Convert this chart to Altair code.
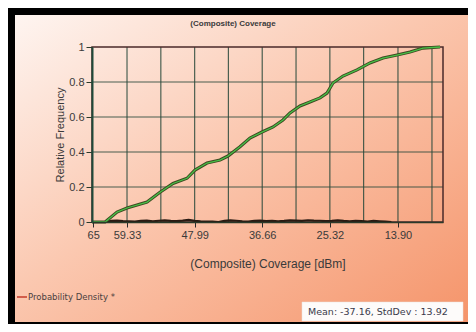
import altair as alt
import pandas as pd

# ---- data ----
cdf_x = [65.2, 63.0, 61.0, 59.33, 55.98, 53.80, 51.62, 49.27, 47.93, 45.92, 43.74, 42.40,
         40.39, 38.71, 36.70, 34.85, 33.18, 32.00, 30.33, 28.65, 26.97, 25.80, 24.80,
         23.12, 20.77, 18.59, 16.41, 14.06, 11.89, 9.71, 6.85]
cdf_y = [0.0, 0.0, 0.057, 0.08, 0.114, 0.17, 0.22, 0.25, 0.297, 0.337, 0.354, 0.377,
         0.43, 0.48, 0.514, 0.543, 0.583, 0.623, 0.663, 0.686, 0.709, 0.737, 0.794,
         0.834, 0.869, 0.909, 0.937, 0.954, 0.971, 0.994, 1.0]

dens_x = [63, 62, 61, 60, 59, 58, 57, 56, 55, 54, 53, 52, 51, 50, 49, 48, 47, 46, 45, 44,
          43, 42, 41, 40, 39, 38, 37, 36, 35, 34, 33, 32, 31, 30, 29, 28, 27, 26, 25, 24,
          23, 22, 21, 20, 19, 18, 17, 16, 15]
dens_y = [0.0, 0.006, 0.008, 0.005, 0.004, 0.002, 0.006, 0.008, 0.004, 0.007, 0.009, 0.006,
          0.005, 0.008, 0.012, 0.006, 0.004, 0.003, 0.002, 0.0, 0.006, 0.009, 0.007, 0.004,
          0.003, 0.006, 0.008, 0.005, 0.007, 0.004, 0.006, 0.009, 0.008, 0.006, 0.010, 0.008,
          0.007, 0.005, 0.006, 0.009, 0.006, 0.004, 0.007, 0.005, 0.003, 0.006, 0.004, 0.002, 0.0]

x_domain = [65.2, 6.35]
x_label_values = [65, 59.33, 47.99, 36.66, 25.32, 13.90]
grid_x = [59.33, 53.66, 47.99, 42.33, 36.66, 30.99, 25.32, 19.66, 13.90, 8.2]
grid_y = [0.2, 0.4, 0.6, 0.8]
y_ticks = [0, 0.2, 0.4, 0.6, 0.8, 1]

title_text = "(Composite) Coverage"
x_title = "(Composite) Coverage [dBm]"
y_title = "Relative Frequency"
legend_text = "Probability Density *"
stats_text = "Mean: -37.16, StdDev : 13.92"

FONT = "Liberation Sans"
WIDE = "DejaVu Sans"

cdf_df = pd.DataFrame({"x": cdf_x, "y": cdf_y})
dens_df = pd.DataFrame({"x": dens_x, "y": dens_y})
gx_df = pd.DataFrame({"x": grid_x})
gy_df = pd.DataFrame({"y": grid_y})
one = pd.DataFrame({"a": [0]})

xscale = alt.Scale(domain=x_domain, zero=False, nice=False)
yscale = alt.Scale(domain=[0, 1], zero=False, nice=False)

x_axis = alt.Axis(values=x_label_values, title=x_title, grid=False, zindex=2,
                  labelExpr="datum.value == 65 ? '65' : format(datum.value, '.2f')",
                  labelFontSize=11, labelColor="#3a3a3a", labelFont=FONT,
                  titleFont=FONT, titleFontSize=12, titleFontWeight="normal",
                  titleColor="#3a3a3a", titlePadding=18, tickSize=5,
                  tickColor="#2a2a2a", domainColor="#2a3a2a", domainWidth=1.5,
                  labelPadding=2)
y_axis = alt.Axis(values=y_ticks, title=y_title, grid=False, format="~g", zindex=2,
                  labelFontSize=11, labelColor="#3a3a3a", labelFont=FONT,
                  titleFont=FONT, titleFontSize=11, titleFontWeight="normal",
                  titleColor="#3a3a3a", titlePadding=3, tickSize=6,
                  tickColor="#2a3a2a", domainColor="#1f4a3a", domainWidth=2,
                  labelPadding=2)

bg = alt.Chart(one).mark_rect(
    color=alt.LinearGradient(
        gradient="linear", x1=0, y1=0, x2=1, y2=1,
        stops=[alt.GradientStop(offset=0, color="#fef5f1"),
               alt.GradientStop(offset=0.45, color="#fbc8b0"),
               alt.GradientStop(offset=1, color="#f5946a")])
).encode(x=alt.value(-77), x2=alt.value(376), y=alt.value(-32), y2=alt.value(275))

vgrid = alt.Chart(gx_df).mark_rule(color="#2c4a3c", strokeWidth=1.2, opacity=0.85).encode(
    x=alt.X("x:Q", scale=xscale, axis=x_axis))
hgrid = alt.Chart(gy_df).mark_rule(color="#2c4a3c", strokeWidth=1.2, opacity=0.85).encode(
    y=alt.Y("y:Q", scale=yscale, axis=y_axis))

frame = alt.Chart(one).mark_rect(fill=None, stroke="#4a2a2a", strokeWidth=1.5).encode(
    x=alt.value(0), x2=alt.value(351), y=alt.value(0), y2=alt.value(175))

dens = alt.Chart(dens_df).mark_line(color="#2a1a12", strokeWidth=2.2).encode(
    x=alt.X("x:Q", scale=xscale, axis=x_axis),
    y=alt.Y("y:Q", scale=yscale, axis=y_axis))

cdf_shadow = alt.Chart(cdf_df).mark_line(color="#3d4a22", strokeWidth=3.2).encode(
    x=alt.X("x:Q", scale=xscale, axis=x_axis),
    y=alt.Y("y:Q", scale=yscale, axis=y_axis))
cdf = alt.Chart(cdf_df).mark_line(color="#48c048", strokeWidth=1.3).encode(
    x=alt.X("x:Q", scale=xscale, axis=x_axis),
    y=alt.Y("y:Q", scale=yscale, axis=y_axis))

title = alt.Chart(pd.DataFrame({"t": [title_text]})).mark_text(
    font=FONT, fontSize=8, fontWeight="bold", color="#3a3a3a", align="center", baseline="middle"
).encode(x=alt.value(141), y=alt.value(-23), text="t:N")

leg_line = alt.Chart(one).mark_rule(color="#c43a2a", strokeWidth=1.5).encode(
    x=alt.value(-75), x2=alt.value(-65), y=alt.value(250))
leg_text = alt.Chart(pd.DataFrame({"t": [legend_text]})).mark_text(
    font=WIDE, fontSize=8.5, color="#4a4040", align="left", baseline="middle"
).encode(x=alt.value(-64), y=alt.value(250), text="t:N")

box = alt.Chart(one).mark_rect(color="#fdfbfa", stroke="#e8e0dc", strokeWidth=0.5).encode(
    x=alt.value(210), x2=alt.value(371), y=alt.value(255), y2=alt.value(274))
stats = alt.Chart(pd.DataFrame({"t": [stats_text]})).mark_text(
    font=WIDE, fontSize=9.5, color="#3a3a4a", align="left", baseline="middle"
).encode(x=alt.value(216), y=alt.value(265), text="t:N")

chart = alt.layer(bg, vgrid, hgrid, frame, dens, cdf_shadow, cdf, title, leg_line, leg_text,
                  box, stats
).properties(
    width=351, height=175,
    autosize=alt.AutoSizeParams(type="none"),
    padding={"left": 84, "top": 39, "right": 25, "bottom": 102},
    background="#000000",
).configure_view(
    stroke=None, fill=None
)

chart.save("out.html", embed_options={"renderer": "svg", "actions": False})
